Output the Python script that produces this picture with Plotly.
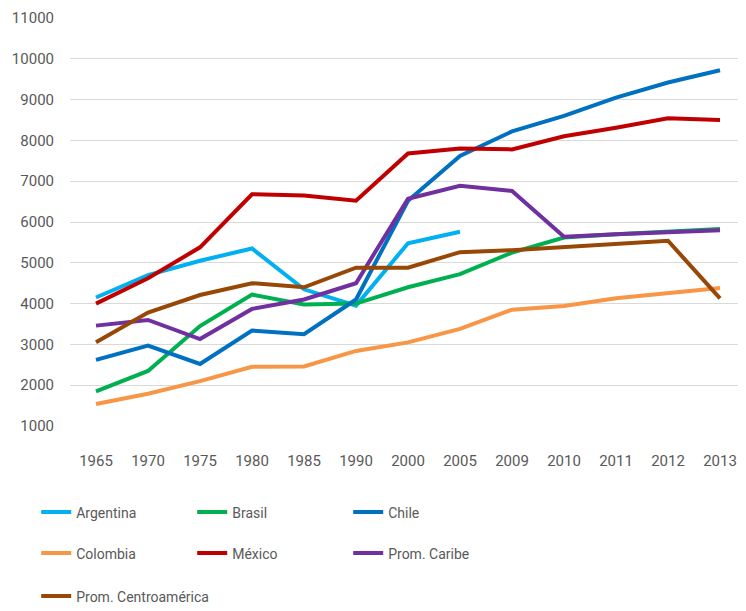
import plotly.graph_objects as go

years = ["1965", "1970", "1975", "1980", "1985", "1990", "2000", "2005",
         "2009", "2010", "2011", "2012", "2013"]

argentina = [4150, 4700, 5050, 5350, 4350, 3950, 5480, 5760, None, None, None, None, None]
brasil = [1850, 2350, 3450, 4220, 3980, 4000, 4400, 4720, 5250, 5620, 5700, 5760, 5830]
chile = [2620, 2970, 2520, 3340, 3250, 4100, 6520, 7620, 8220, 8600, 9050, 9420, 9720]
colombia = [1540, 1790, 2100, 2450, 2460, 2840, 3050, 3380, 3850, 3940, 4130, 4250, 4380]
mexico = [4000, 4620, 5380, 6680, 6650, 6520, 7680, 7800, 7780, 8100, 8310, 8540, 8500]
caribe = [3460, 3600, 3130, 3870, 4100, 4500, 6570, 6890, 6760, 5640, 5700, 5740, 5800]
centroamerica = [3050, 3780, 4210, 4500, 4400, 4880, 4880, 5260, 5310, 5390, 5480, 5540, 4130]

y_ticks = [1000, 2000, 3000, 4000, 5000, 6000, 7000, 8000, 9000, 10000, 11000]

series = [
    ("Argentina", argentina, "#00B0F0", "legend"),
    ("Brasil", brasil, "#00B050", "legend"),
    ("Chile", chile, "#0070C0", "legend"),
    ("Colombia", colombia, "#F79646", "legend2"),
    ("México", mexico, "#C00000", "legend2"),
    ("Prom. Caribe", caribe, "#7030A0", "legend2"),
    ("Prom. Centroamérica", centroamerica, "#974706", "legend3"),
]

FONT = "Roboto, Open Sans, sans-serif"
GREY = "#595959"

fig = go.Figure()
for name, vals, color, leg in series:
    fig.add_trace(go.Scatter(
        x=years, y=vals, name=name, mode="lines",
        line=dict(color=color, width=4),
        connectgaps=False, legend=leg,
    ))

legend_base = dict(
    orientation="h", xanchor="left", yanchor="middle",
    font=dict(family=FONT, size=14, color=GREY),
    bgcolor="rgba(0,0,0,0)", borderwidth=0,
    itemclick=False, itemdoubleclick=False,
)
legend_cols = dict(entrywidth=111, entrywidthmode="pixels", **legend_base)

LEG_X = -0.050

fig.update_layout(
    width=738, height=603,
    margin=dict(l=62, r=0, t=10, b=185, autoexpand=False),
    paper_bgcolor="white", plot_bgcolor="white",
    font=dict(family=FONT, size=15, color=GREY),
    showlegend=True,
    legend=dict(x=LEG_X, y=-0.2120, **legend_cols),
    legend2=dict(x=LEG_X, y=-0.3125, **legend_cols),
    legend3=dict(x=LEG_X, y=-0.4179, **legend_base),
    xaxis=dict(
        type="category", range=[-0.5, 12.5],
        showgrid=False, zeroline=False, showline=False,
        ticks="outside", ticklen=21, tickcolor="rgba(0,0,0,0)",
        tickfont=dict(family=FONT, size=15, color=GREY),
    ),
    yaxis=dict(
        range=[1000, 11000], tickvals=y_ticks, tickformat="d",
        showgrid=True, gridcolor="#D9D9D9", gridwidth=1,
        zeroline=False, showline=False,
        ticks="outside", ticklen=12, tickcolor="rgba(0,0,0,0)",
        tickfont=dict(family=FONT, size=15, color=GREY),
    ),
)

fig.write_html("out.html")
